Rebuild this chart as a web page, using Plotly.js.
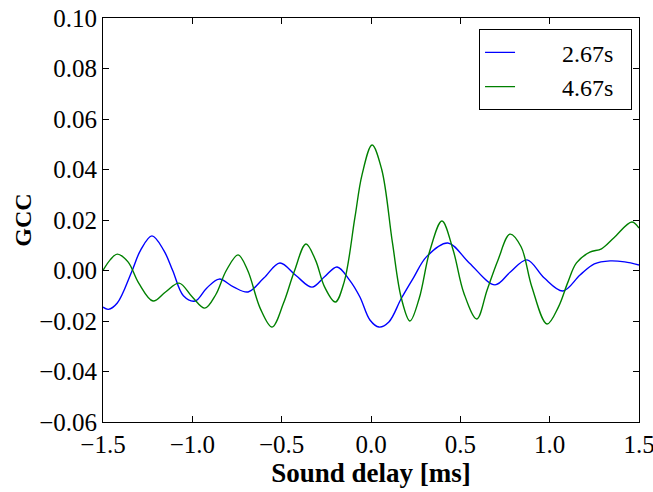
<!DOCTYPE html>
<html>
<head>
<meta charset="utf-8">
<script src="https://cdn.plot.ly/plotly-3.0.1.min.js"></script>
<style>html,body{margin:0;padding:0;background:#fff;}#chart{width:653px;height:492px;}</style>
</head>
<body>
<div id="chart"></div>
<script>
// Series: 2.67s (blue)
const blueX = [-1.5, -1.47, -1.42, -1.34, -1.29, -1.226, -1.16, -1.11, -1.05, -0.985, -0.92, -0.85, -0.77, -0.688, -0.60, -0.51, -0.42, -0.33, -0.26, -0.19, -0.12, -0.062, -0.006, 0.045, 0.10, 0.17, 0.24, 0.31, 0.43, 0.55, 0.694, 0.78, 0.873, 0.97, 1.074, 1.17, 1.25, 1.338, 1.42, 1.5];
const blueY = [-0.0145, -0.0154, -0.0129, -0.0006, 0.008, 0.0137, 0.008, 0.0, -0.010, -0.0121, -0.007, -0.0034, -0.0065, -0.0085, -0.003, 0.003, -0.002, -0.0066, -0.0025, 0.0014, -0.0038, -0.0105, -0.0196, -0.0224, -0.0204, -0.011, -0.0026, 0.0054, 0.0109, 0.003, -0.0057, -0.0006, 0.0042, -0.003, -0.0081, -0.0018, 0.0026, 0.0038, 0.0034, 0.0022];
// Series: 4.67s (green)
const greenX = [-1.5, -1.46, -1.42, -1.36, -1.30, -1.22, -1.15, -1.074, -1.0, -0.93, -0.87, -0.81, -0.744, -0.69, -0.62, -0.554, -0.49, -0.43, -0.364, -0.31, -0.26, -0.2, -0.15, -0.09, -0.05, 0.006, 0.06, 0.12, 0.17, 0.218, 0.27, 0.33, 0.397, 0.46, 0.52, 0.592, 0.65, 0.71, 0.778, 0.84, 0.90, 0.985, 1.05, 1.10, 1.15, 1.225, 1.29, 1.36, 1.46, 1.5];
const greenY = [0.0, 0.0042, 0.0065, 0.0034, -0.005, -0.0121, -0.0085, -0.005, -0.0105, -0.0149, -0.0097, 0.0, 0.0062, 0.0, -0.015, -0.0224, -0.013, -0.0005, 0.0105, 0.004, -0.0065, -0.0125, -0.0045, 0.021, 0.038, 0.0497, 0.040, 0.011, -0.011, -0.020, -0.011, 0.008, 0.0196, 0.008, -0.009, -0.0192, -0.0077, 0.004, 0.0144, 0.0094, -0.0064, -0.0212, -0.0143, -0.005, 0.003, 0.0073, 0.0086, 0.013, 0.0192, 0.0168];
const seriesNames = ["2.67s", "4.67s"];
const xTicks = [-1.5, -1.0, -0.5, 0.0, 0.5, 1.0, 1.5];
const yTicks = [-0.06, -0.04, -0.02, 0.00, 0.02, 0.04, 0.06, 0.08, 0.10];

const FONT = "'Liberation Serif', serif";
const LPAD = "\u00a0\u00a0\u00a0\u00a0\u00a0\u00a0\u00a0";
const RPAD = "\u00a0\u00a0";
const traces = [
  {x: blueX, y: blueY, name: LPAD + seriesNames[0] + RPAD, mode: "lines", legendgroup: "a",
   line: {color: "#0000ff", width: 1.4, shape: "spline", smoothing: 1}},
  {x: greenX, y: greenY, name: LPAD + seriesNames[1] + RPAD, mode: "lines", legendgroup: "b",
   line: {color: "#008000", width: 1.4, shape: "spline", smoothing: 1}}
];
const axisCommon = {
  showgrid: false, zeroline: false, showline: true, linecolor: "#000", linewidth: 1,
  mirror: "ticks", ticks: "inside", ticklen: 6, tickcolor: "#000", tickwidth: 1,
  tickfont: {family: FONT, size: 25, color: "#000"}, ticklabeloverflow: "allow"
};
const layout = {
  width: 653, height: 492,
  margin: {l: 103, r: 14, t: 18, b: 70},
  paper_bgcolor: "#fff", plot_bgcolor: "#fff",
  font: {family: FONT, color: "#000"},
  xaxis: Object.assign({}, axisCommon, {
    range: [-1.5, 1.5], tickvals: xTicks, tickformat: ".1f",
    title: {text: "<b>Sound delay [ms]</b>", font: {family: FONT, size: 27, color: "#000"}, standoff: 0}
  }),
  yaxis: Object.assign({}, axisCommon, {
    range: [-0.06, 0.10], tickvals: yTicks, tickformat: ".2f",
    title: {text: "<b>GCC</b>", font: {family: FONT, size: 24, color: "#000"}, standoff: 0}
  }),
  showlegend: true,
  legend: {
    x: 0.987, y: 0.972, xanchor: "right", yanchor: "top",
    bgcolor: "#fff", bordercolor: "#000", borderwidth: 1,
    font: {family: FONT, size: 24, color: "#000"},
    tracegroupgap: 0
  }
};
Plotly.newPlot("chart", traces, layout, {displayModeBar: false, staticPlot: true});
</script>
</body>
</html>
